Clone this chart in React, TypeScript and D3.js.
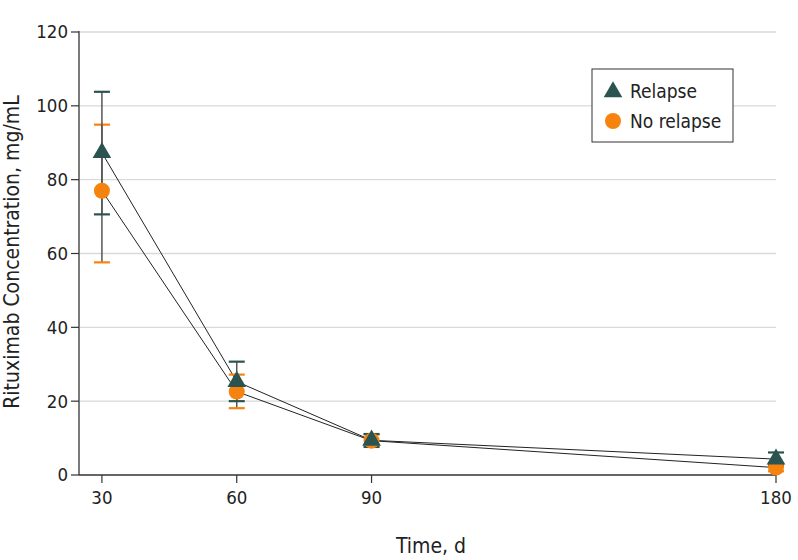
import React from "react";
import * as d3 from "d3";

const days = [30, 60, 90, 180];
const relapseMean = [87.3, 25.3, 9.4, 4.3];
const relapseLow = [70.6, 20.0, 7.6, 2.6];
const relapseHigh = [103.8, 30.7, 11.1, 6.1];
const noRelapseMean = [77.0, 22.6, 9.3, 2.0];
const noRelapseLow = [57.6, 18.1, 8.0, 1.0];
const noRelapseHigh = [94.9, 27.2, 11.0, 3.0];
const yTicks = [0, 20, 40, 60, 80, 100, 120];
const xTicks = [30, 60, 90, 180];

const TEAL = "#2b5450";
const ORANGE = "#f7830f";
const FONT = "'Liberation Sans Narrow', 'DejaVu Sans Condensed', 'Roboto Condensed', 'Open Sans', sans-serif";

export default function App() {
  const W = 798, H = 560;
  const x = d3.scaleLinear().domain([24.9, 180]).range([79, 776]);
  const y = d3.scaleLinear().domain([0, 120]).range([475, 32]);
  const line = d3.line<number>().x((_, i) => x(days[i])).y((d) => y(d));
  const tri = d3.symbol().type(d3.symbolTriangle).size(150)();

  const errBars = (lo: number[], hi: number[], color: string, key: string) =>
    days.map((d, i) => (
      <g key={key + i}>
        <line x1={x(d)} x2={x(d)} y1={y(lo[i])} y2={y(hi[i])} stroke="#555" strokeWidth={1.5} />
        <line x1={x(d) - 8} x2={x(d) + 8} y1={y(lo[i])} y2={y(lo[i])} stroke={color} strokeWidth={2.2} />
        <line x1={x(d) - 8} x2={x(d) + 8} y1={y(hi[i])} y2={y(hi[i])} stroke={color} strokeWidth={2.2} />
      </g>
    ));

  return (
    <svg width={W} height={H} style={{ position: "absolute", left: 0, top: 0 }} fontFamily={FONT}>
      <rect width={W} height={H} fill="#fff" />
      {yTicks.map((t) => (
        <g key={"y" + t}>
          {t > 0 && <line x1={80} x2={776} y1={y(t)} y2={y(t)} stroke="#d9d9d9" strokeWidth={1.3} />}
          <line x1={71} x2={79} y1={y(t)} y2={y(t)} stroke="#333" strokeWidth={1.2} />
          <text x={68} y={y(t)} dy="0.35em" textAnchor="end" fontSize={18.5} fill="#222">{t}</text>
        </g>
      ))}
      <line x1={79} x2={79} y1={31} y2={475} stroke="#333" strokeWidth={1.3} />
      <line x1={79} x2={776} y1={475} y2={475} stroke="#333" strokeWidth={1.3} />
      {xTicks.map((t) => (
        <g key={"x" + t}>
          <line x1={x(t)} x2={x(t)} y1={475} y2={483} stroke="#333" strokeWidth={1.2} />
          <text x={x(t)} y={504} textAnchor="middle" fontSize={18.5} fill="#222">{t}</text>
        </g>
      ))}
      <text x={431} y={553} textAnchor="middle" fontSize={21} fill="#222">Time, d</text>
      <text transform={`translate(19,252) rotate(-90)`} textAnchor="middle" fontSize={21} fill="#222">
        Rituximab Concentration, mg/mL
      </text>

      <path d={line(relapseMean) || ""} fill="none" stroke="#222" strokeWidth={1} />
      <path d={line(noRelapseMean) || ""} fill="none" stroke="#222" strokeWidth={1} />

      {errBars(noRelapseLow, noRelapseHigh, ORANGE, "n")}
      {errBars(relapseLow, relapseHigh, TEAL, "r")}

      {days.map((d, i) => (
        <circle key={"c" + i} cx={x(d)} cy={y(noRelapseMean[i])} r={8} fill={ORANGE} />
      ))}
      {days.map((d, i) => (
        <path key={"t" + i} d={tri || ""} transform={`translate(${x(d)},${y(relapseMean[i])})`} fill={TEAL} />
      ))}

      <g>
        <rect x={592} y={69} width={141} height={73} fill="#fff" stroke="#333" strokeWidth={1} />
        <path d={tri || ""} transform="translate(613,92)" fill={TEAL} />
        <text x={630} y={91} dy="0.35em" fontSize={19} fill="#222">Relapse</text>
        <circle cx={613} cy={121} r={8} fill={ORANGE} />
        <text x={630} y={121} dy="0.35em" fontSize={19} fill="#222">No relapse</text>
      </g>
    </svg>
  );
}
